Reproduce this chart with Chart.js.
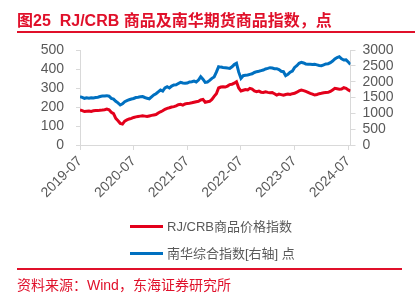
<!DOCTYPE html>
<html>
<head>
<meta charset="utf-8">
<script src="https://cdn.jsdelivr.net/npm/chart.js@4.4.1/dist/chart.umd.min.js"></script>
<style>
  html, body { margin: 0; padding: 0; background: #fff; }
  body { width: 415px; height: 295px; position: relative; overflow: hidden;
         font-family: "Liberation Sans", "Noto Sans CJK SC", sans-serif; }
  #c { position: absolute; left: 0; top: 0; }
  .title { position: absolute; left: 17px; top: 7px; font-size: 16px; font-weight: bold;
           color: #e0102a; white-space: nowrap; letter-spacing: 0; }
  .rule { position: absolute; height: 2px; background: #e0102a; }
  .legend { position: absolute; left: 130px; font-size: 13px; color: #595959; white-space: nowrap; }
  .legend span.sw { display: inline-block; width: 33px; height: 3px; vertical-align: middle; margin-right: 4px; position: relative; top: -1px; }
  .source { position: absolute; left: 17px; top: 274px; font-size: 14px; color: #e0102a; white-space: nowrap; }
</style>
</head>
<body>
<canvas id="c" width="415" height="295"></canvas>
<div class="title">图25&nbsp; RJ/CRB 商品及南华期货商品指数，点</div>
<div class="rule" style="left:17px; top:31px; width:398px;"></div>
<div class="legend" style="top:216px;"><span class="sw" style="background:#e3001b"></span>RJ/CRB商品价格指数</div>
<div class="legend" style="top:243px;"><span class="sw" style="background:#0070c0"></span>南华综合指数[右轴] 点</div>
<div class="rule" style="left:17px; top:268px; width:385px;"></div>
<div class="source">资料来源：Wind，东海证券研究所</div>
<script>
// semi-monthly observations starting 2019-07 (two per month)
const startMonth = '2019-07';
const tickLabels = ['2019-07', '2020-07', '2021-07', '2022-07', '2023-07', '2024-07'];
const seriesNames = ['RJ/CRB商品价格指数', '南华综合指数[右轴] 点'];

const rjcrb = [
  184, 181, 176, 178, 179, 177, 180, 182, 181, 183, 184, 186,
  189, 185, 172, 165, 140, 128, 114, 110, 126, 132, 137, 140,
  145, 148, 150, 152, 154, 152, 150, 153, 156, 158, 160, 168,
  175, 180, 188, 193, 196, 200, 202, 206, 212, 214, 210, 216,
  219, 220, 222, 225, 228, 230, 237, 240, 225, 228, 230, 240,
  256, 270, 300, 305, 307, 305, 310, 318, 320, 325, 333, 300,
  284, 288, 292, 290, 298, 294, 285, 281, 284, 278, 277, 280,
  277, 275, 276, 270, 263, 268, 265, 262, 266, 268, 266, 270,
  272, 278, 285, 289, 286, 282, 277, 272, 268, 263, 266, 270,
  272, 275, 276, 277, 282, 290, 298, 296, 294, 295, 302, 298,
  290, 284
];

const nanhua = [
  1526, 1505, 1474, 1490, 1480, 1495, 1485, 1500, 1510, 1530, 1545, 1550,
  1558, 1540, 1474, 1450, 1380, 1330, 1263, 1300, 1368, 1400, 1430, 1453,
  1470, 1500, 1510, 1526, 1530, 1500, 1474, 1460, 1520, 1580, 1620, 1680,
  1737, 1700, 1800, 1842, 1800, 1860, 1895, 1900, 1940, 1979, 1960, 1950,
  1958, 1990, 2000, 2021, 1990, 2050, 2158, 2080, 1979, 1990, 2040, 2105,
  2150, 2300, 2474, 2460, 2450, 2442, 2430, 2421, 2470, 2540, 2579, 2300,
  2105, 2189, 2200, 2210, 2231, 2250, 2290, 2316, 2330, 2350, 2368, 2400,
  2420, 2442, 2430, 2410, 2410, 2380, 2330, 2316, 2189, 2230, 2300, 2337,
  2450, 2505, 2580, 2611, 2590, 2560, 2547, 2550, 2540, 2547, 2530, 2510,
  2505, 2530, 2560, 2568, 2600, 2650, 2716, 2760, 2789, 2720, 2684, 2690,
  2620, 2547
];

const toPoints = arr => arr.map((v, i) => ({ x: i / 2, y: v }));
const FONT = '"Liberation Sans", "Noto Sans CJK SC", sans-serif';
const GRAY = '#595959';
const AXIS = '#d9d9d9';

new Chart(document.getElementById('c'), {
  type: 'line',
  data: {
    datasets: [
      { label: seriesNames[0], data: toPoints(rjcrb), yAxisID: 'y',
        borderColor: '#e3001b', borderWidth: 3, pointRadius: 0, tension: 0 },
      { label: seriesNames[1], data: toPoints(nanhua), yAxisID: 'y1',
        borderColor: '#0070c0', borderWidth: 3, pointRadius: 0, tension: 0 }
    ]
  },
  options: {
    responsive: false,
    animation: false,
    events: [],
    layout: { padding: { top: 50, left: 0, right: 0, bottom: 0 } },
    plugins: { legend: { display: false }, tooltip: { enabled: false }, title: { display: false } },
    scales: {
      x: {
        type: 'linear', min: 0, max: 60.5,
        afterBuildTicks: s => { s.ticks = tickLabels.map((_, i) => ({ value: i * 12 })); },
        afterFit: s => { s.height = 150; },
        grid: { display: true, drawOnChartArea: false, color: AXIS, tickLength: 5, tickColor: AXIS },
        border: { display: true, color: AXIS, width: 1 },
        ticks: {
          autoSkip: false, minRotation: 45, maxRotation: 45, padding: 3,
          color: GRAY, font: { family: FONT, size: 14 },
          callback: v => tickLabels[Math.round(v / 12)]
        }
      },
      y: {
        position: 'left', min: 0, max: 500,
        afterFit: s => { s.width = 80; },
        grid: { display: true, drawOnChartArea: false, color: AXIS, tickLength: 4, tickColor: AXIS },
        border: { display: true, color: AXIS, width: 1 },
        ticks: { stepSize: 100, autoSkip: false, padding: 12, color: GRAY, font: { family: FONT, size: 14 },
                 callback: v => String(v) }
      },
      y1: {
        position: 'right', min: 0, max: 3000,
        afterFit: s => { s.width = 64.5; },
        grid: { display: true, drawOnChartArea: false, color: AXIS, tickLength: 5, tickColor: AXIS },
        border: { display: true, color: AXIS, width: 1 },
        ticks: { stepSize: 500, autoSkip: false, padding: 7, color: GRAY, font: { family: FONT, size: 14 },
                 callback: v => String(v) }
      }
    }
  }
});
</script>
</body>
</html>
